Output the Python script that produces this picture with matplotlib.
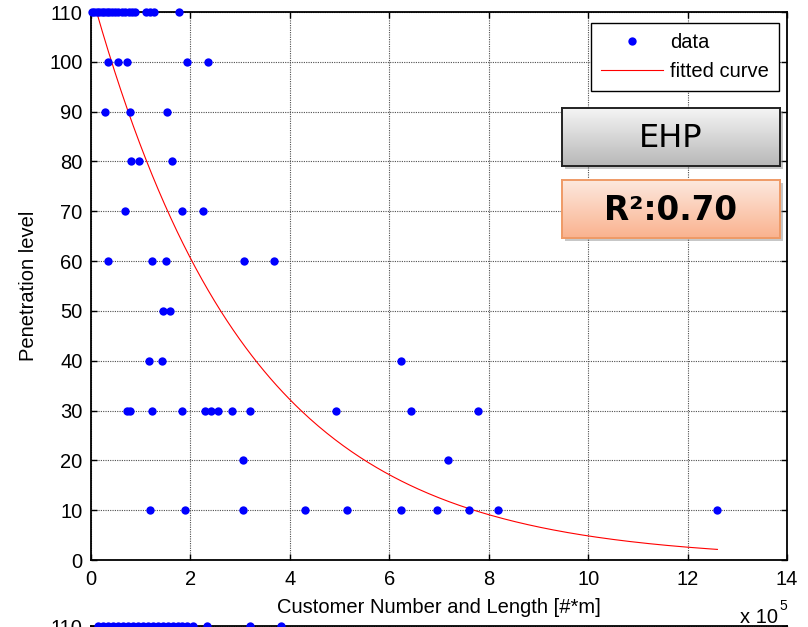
import numpy as np
import matplotlib
matplotlib.use("Agg")
import matplotlib.pyplot as plt
from matplotlib.patches import Rectangle

# Customer number x length, in units of 1e5 [#*m], grouped by penetration level
levels = [110, 100, 90, 80, 70, 60, 50, 40, 30, 20, 10]
x_110 = [0.02, 0.07, 0.12, 0.17, 0.22, 0.27, 0.32, 0.37, 0.43, 0.49, 0.55,
         0.62, 0.69, 0.76, 0.83, 0.89, 1.11, 1.19, 1.27, 1.77]
x_100 = [0.35, 0.55, 0.73, 1.94, 2.36]
x_90 = [0.28, 0.79, 1.52]
x_80 = [0.80, 0.97, 1.62]
x_70 = [0.68, 1.84, 2.26]
x_60 = [0.35, 1.22, 1.51, 3.07, 3.69]
x_50 = [1.45, 1.58]
x_40 = [1.16, 1.42, 6.23]
x_30 = [0.72, 0.78, 1.22, 1.84, 2.29, 2.42, 2.56, 2.84, 3.19, 4.92, 6.44, 7.79]
x_20 = [3.06, 7.18]
x_10 = [1.19, 1.90, 3.06, 4.30, 5.14, 6.23, 6.95, 7.60, 8.18, 12.60]
x_groups = [x_110, x_100, x_90, x_80, x_70, x_60, x_50, x_40, x_30, x_20, x_10]

# Fitted exponential model y = a * exp(-b * x)
fit_a = 114.0
fit_b = 0.316
fit_x_start = 0.10
fit_x_end = 12.60
r2_value = 0.70

# Next panel (top row visible only)
lower_x_110 = [0.14, 0.24, 0.34, 0.44, 0.54, 0.64, 0.74, 0.84, 0.94, 1.04,
               1.14, 1.24, 1.34, 1.44, 1.54, 1.64, 1.74, 1.84, 1.94, 2.06,
               2.34, 3.19, 3.82]

x_ticks = list(range(0, 15, 2))
y_ticks = list(range(0, 111, 10))

W, H = 808, 627
FS = 14.5
plt.rcParams['font.family'] = ['Liberation Sans', 'DejaVu Sans']
fig = plt.figure(figsize=(W / 100, H / 100), dpi=100)


def px_rect(x0, y0, x1, y1):
    return [x0 / W, 1 - y1 / H, (x1 - x0) / W, (y1 - y0) / H]


def style_axes(ax):
    ax.set_xlim(0, 14)
    ax.set_ylim(0, 110)
    ax.set_xticks(x_ticks)
    ax.set_yticks(y_ticks)
    ax.tick_params(direction='in', length=4, width=1, top=True, right=True,
                   labelsize=FS, colors='black')
    ax.tick_params(axis='x', pad=7)
    ax.tick_params(axis='y', pad=6)
    ax.grid(True, color='0.3', linestyle=(0, (1, 1.1)), linewidth=0.8)
    ax.set_axisbelow(True)
    for s in ax.spines.values():
        s.set_linewidth(1.3)


ax = fig.add_axes(px_rect(91, 12, 787, 560))
style_axes(ax)

xs = np.concatenate([np.asarray(g, float) for g in x_groups])
ys = np.concatenate([np.full(len(g), lv, float) for g, lv in zip(x_groups, levels)])
ax.plot(xs, ys, 'o', color='#0000ff', ms=6, mec='none', label='data',
        clip_on=False, zorder=4)

xf = np.linspace(fit_x_start, fit_x_end, 300)
ax.plot(xf, fit_a * np.exp(-fit_b * xf), color='#ff0000', lw=0.8,
        label='fitted curve', zorder=3)

ax.set_xlabel('Customer Number and Length [#*m]', fontsize=FS, labelpad=7)
ax.set_ylabel('Penetration level', fontsize=FS, labelpad=8)

leg = ax.legend(loc='upper right', bbox_to_anchor=(0.9885, 0.980),
                borderaxespad=0, fancybox=False, framealpha=1,
                edgecolor='black', fontsize=FS, handlelength=3.1,
                handletextpad=0.35, labelspacing=0.5, borderpad=0.5,
                numpoints=1)
leg.get_frame().set_linewidth(1.0)

# Scale factor of the x axis
fig.text(778 / W, 1 - 623 / H, 'x 10', ha='right', va='baseline', fontsize=FS)
fig.text(779 / W, 1 - 610 / H, '5', ha='left', va='baseline', fontsize=10)


def gradient_box(x0, y0, x1, y1, top, bottom, edge, text, weight, size):
    shadow = Rectangle(((x0 + 3) / W, 1 - (y1 + 3) / H), (x1 - x0) / W,
                       (y1 - y0) / H, transform=fig.transFigure,
                       facecolor='0.45', alpha=0.4, edgecolor='none',
                       zorder=1)
    fig.patches.append(shadow)
    bax = fig.add_axes(px_rect(x0, y0, x1, y1), zorder=3)
    t = np.linspace(0, 1, 64)[:, None, None]
    img = np.array(top)[None, None, :] * (1 - t) + np.array(bottom)[None, None, :] * t
    bax.imshow(img, aspect='auto', extent=(0, 1, 0, 1), interpolation='bilinear')
    bax.set_xticks([])
    bax.set_yticks([])
    for s in bax.spines.values():
        s.set_color(edge)
        s.set_linewidth(1.4)
    bax.text(0.5, 0.48, text, ha='center', va='center', fontsize=size,
             fontweight=weight, family=['DejaVu Sans'], color='black')


gradient_box(562, 108, 780, 166, (0.96, 0.96, 0.96), (0.72, 0.72, 0.72),
             '#222222', 'EHP', 'normal', 23)
gradient_box(562, 180, 780, 238, (0.99, 0.91, 0.87), (0.98, 0.70, 0.56),
             '#ef9a66', f'R²:{r2_value:.2f}', 'bold', 23.5)

# Following panel, only its top edge falls inside the figure
ax2 = fig.add_axes(px_rect(91, 626, 787, 1174))
style_axes(ax2)
ax2.tick_params(axis='x', labelbottom=False)
ax2.set_yticklabels(['' if v != 110 else str(v) for v in y_ticks])
ax2.plot(lower_x_110, np.full(len(lower_x_110), 110.0), 'o', color='#0000ff',
         ms=6, mec='none', clip_on=False, zorder=4)

fig.savefig('out.png', dpi=100)
